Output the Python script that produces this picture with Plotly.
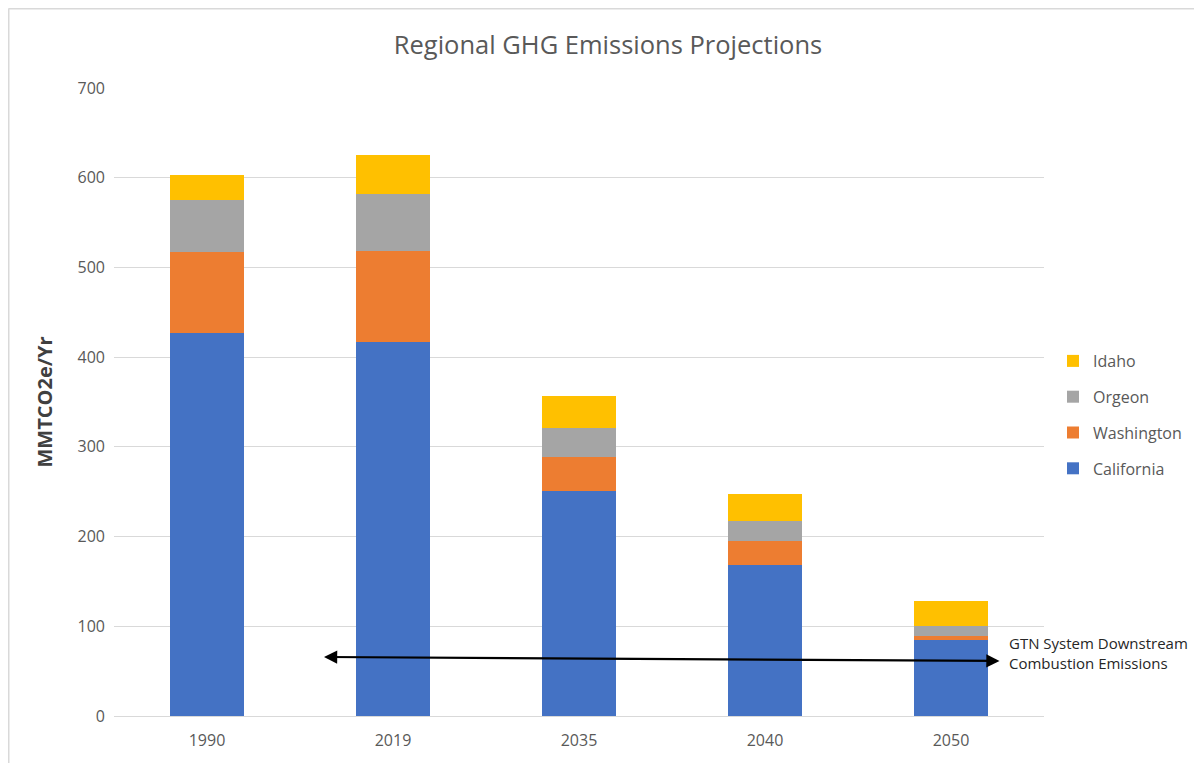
import plotly.graph_objects as go

years = ["1990", "2019", "2035", "2040", "2050"]
california = [427, 417, 251, 168, 85]
washington = [90, 101, 38, 27, 4]
oregon = [58, 64, 32, 22, 11]
idaho = [28, 43, 36, 31, 28]

series = [
    ("California", california, "#4472C4"),
    ("Washington", washington, "#ED7D31"),
    ("Orgeon", oregon, "#A5A5A5"),
    ("Idaho", idaho, "#FFC000"),
]

FONT = "Open Sans, Liberation Sans, sans-serif"
GREY = "#595959"

fig = go.Figure()
for i, (name, vals, col) in enumerate(series):
    fig.add_trace(go.Bar(
        name=name, x=years, y=vals, marker=dict(color=col, line=dict(width=0)),
        width=0.4, legendgroup=name, legendrank=1000 - i,
    ))

# page offset of the figure inside the html body
OX, OY = 7, 8
W, H = 1195, 755
L, T = 113 - OX, 88 - OY
R = W - (1043 - OX)
B = H - (716 - OY)
pw, ph = W - L - R, H - T - B

def px(xpage):
    return (xpage - OX - L) / pw

def py(ypage):
    return (H - B - (ypage - OY)) / ph

fig.update_layout(
    barmode="stack",
    width=W, height=H,
    margin=dict(l=L, r=R, t=T, b=B),
    paper_bgcolor="white", plot_bgcolor="white",
    font=dict(family=FONT, color=GREY, size=16),
    title=dict(text="Regional GHG Emissions Projections", x=(607 - OX) / W, xanchor="center",
               y=1 - (45 - OY) / H, yanchor="middle",
               font=dict(size=25.5, color=GREY, family=FONT)),
    legend=dict(x=px(1052), xanchor="left", y=py(344), yanchor="top",
                traceorder="grouped", font=dict(size=16, color=GREY),
                itemwidth=30, tracegroupgap=12, bgcolor="rgba(0,0,0,0)"),
    showlegend=True,
    xaxis=dict(type="category", showgrid=False, showline=True, linecolor="#D9D9D9",
               ticks="", tickfont=dict(size=16, color=GREY), ticklabelstandoff=10),
    yaxis=dict(range=[0, 700], dtick=100, showgrid=True, gridcolor="#D9D9D9",
               gridwidth=1, zeroline=False, showline=False, ticks="",
               tickfont=dict(size=16, color=GREY), ticklabelstandoff=8,
               title=dict(text="<b>MMTCO2e/Yr</b>", font=dict(size=20, color="#404040"),
                          standoff=19)),
)

# chart border (top and left)
fig.add_shape(type="line", xref="paper", yref="paper", x0=px(7.5), x1=px(1202),
              y0=py(8.5), y1=py(8.5), line=dict(color="#D9D9D9", width=2))
fig.add_shape(type="line", xref="paper", yref="paper", x0=px(7.5), x1=px(7.5),
              y0=py(8.5), y1=py(763), line=dict(color="#D9D9D9", width=2))

# double-headed arrow
fig.add_annotation(x=px(323), y=py(657), ax=px(1000), ay=py(661),
                   xref="x domain", yref="y domain", axref="x domain", ayref="y domain",
                   text="", showarrow=True, arrowhead=2, arrowside="end+start",
                   arrowsize=1.2, arrowwidth=2.2, arrowcolor="black")

fig.add_annotation(x=px(1006), y=py(653), xref="paper", yref="paper",
                   text="GTN System Downstream<br>Combustion Emissions",
                   showarrow=False, xanchor="left", yanchor="middle", align="left",
                   font=dict(size=15, color="#262626", family=FONT))

fig.write_html("out.html")
